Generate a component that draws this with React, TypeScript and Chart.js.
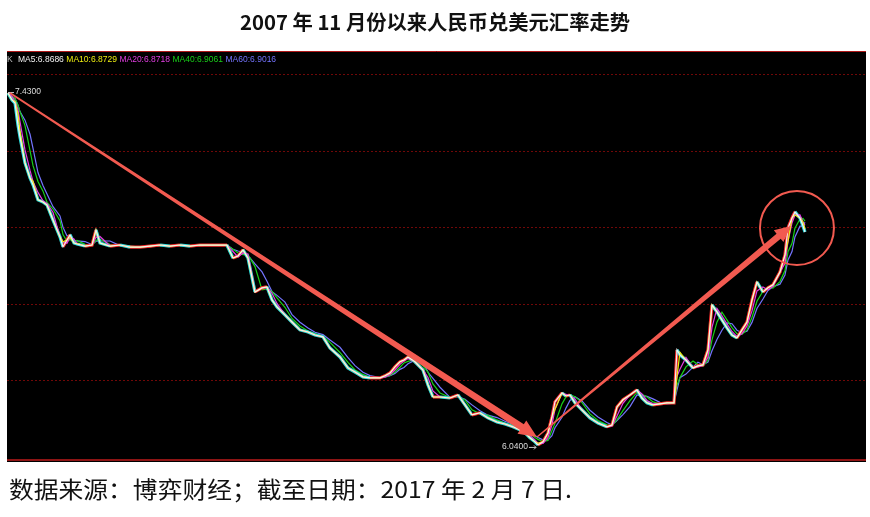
import React, { useEffect, useRef } from 'react';
import { Chart, registerables } from 'chart.js';

Chart.register(...registerables);

// months since 1 Nov 2007
const months = [
  0, 0.56, 0.98, 1.39, 1.67, 2.37, 3.07, 3.49, 4.18, 4.88, 5.44, 6.28, 7.25, 7.67, 8.23, 8.65,
  9.21, 9.62, 10.74, 11.72, 12.27, 12.83, 14.23, 15.62, 17.02, 18.41, 19.81, 21.2, 22.59, 23.99,
  25.38, 26.78, 28.17, 29.57, 30.54, 31.38, 32.08, 32.78, 33.47, 34.45, 35.43, 36.12, 36.82,
  37.52, 38.63, 39.61, 40.72, 41.84, 42.82, 43.93, 44.91, 46.3, 47.42, 48.4, 49.51, 50.49,
  51.88, 52.58, 53.28, 53.97, 54.67, 55.23, 55.79, 56.76, 57.88, 58.58, 59.27, 60.25, 61.65,
  62.76, 63.74, 64.71, 65.83, 66.95, 68.2, 69.32, 70.43, 71.41, 72.11, 72.8, 73.5, 73.92,
  74.62, 75.31, 75.87, 76.29, 77.27, 77.82, 78.38, 79.08, 80.06, 81.17, 82.29, 83.54, 84.24,
  84.94, 85.77, 86.75, 87.73, 88.42, 89.12, 89.96, 90.93, 91.91, 92.89, 93.31, 93.72, 94.56,
  95.54, 96.23, 96.93, 97.63, 98.19, 98.88, 99.58, 100.28, 100.98, 101.67, 102.37, 103.07,
  103.77, 104.46, 105.3, 106.0, 106.69, 107.67, 108.37, 108.79, 109.35, 109.76, 110.46,
  110.88, 111.16,
];

// USD/CNY
const rates = [
  7.427, 7.4, 7.388, 7.302, 7.255, 7.153, 7.094, 7.067, 7.008, 7.0, 6.988, 6.929, 6.863, 6.824,
  6.851, 6.871, 6.839, 6.835, 6.827, 6.831, 6.89, 6.839, 6.827, 6.831, 6.823, 6.823, 6.827,
  6.831, 6.827, 6.831, 6.827, 6.831, 6.831, 6.831, 6.831, 6.78, 6.788, 6.812, 6.78, 6.647,
  6.663, 6.667, 6.616, 6.588, 6.557, 6.529, 6.498, 6.49, 6.478, 6.471, 6.427, 6.392, 6.349,
  6.333, 6.314, 6.31, 6.31, 6.318, 6.329, 6.353, 6.373, 6.38, 6.392, 6.373, 6.341, 6.282,
  6.235, 6.235, 6.231, 6.243, 6.204, 6.165, 6.173, 6.153, 6.137, 6.129, 6.118, 6.106, 6.094,
  6.075, 6.059, 6.047, 6.059, 6.094, 6.157, 6.216, 6.251, 6.239, 6.243, 6.212, 6.184, 6.153,
  6.133, 6.118, 6.125, 6.196, 6.224, 6.243, 6.263, 6.231, 6.212, 6.204, 6.208, 6.212, 6.212,
  6.42, 6.4, 6.38, 6.349, 6.357, 6.361, 6.42, 6.596, 6.569, 6.537, 6.506, 6.478, 6.467, 6.498,
  6.529, 6.616, 6.686, 6.647, 6.663, 6.675, 6.725, 6.792, 6.898, 6.937, 6.961, 6.937, 6.906,
  6.882,
];

const gridValues = [6.3, 6.6, 6.9, 7.2, 7.5];
const maNames = ['MA5', 'MA10', 'MA20', 'MA40', 'MA60'];
const maLegendValues = ['6.8686', '6.8729', '6.8718', '6.9061', '6.9016'];
const maWindowsMonths = [0.23, 0.46, 0.92, 1.84, 2.76];
const maColors = ['#f2f2f2', '#eeee10', '#e23ee2', '#18d018', '#7474ff'];

const titleText = '2007 年 11 月份以来人民币兑美元汇率走势';
const footerText = '数据来源：博弈财经；截至日期：2017 年 2 月 7 日.';
const highLabel = '7.4300';
const lowLabel = '6.0400';

// arrows & circle anchored in data space (month, rate)
const arrowDown = { from: [0.28, 7.427], to: [73.78, 6.078] };
const arrowUp = { from: [73.78, 6.078], to: [109.2, 6.906] };
const circleCenter = [110.04, 6.898];

const RED = '#f25a50';

function movingAverage(win: number) {
  return months.map((m, i) => {
    let s = 0;
    let n = 0;
    for (let j = 0; j <= i; j++) {
      if (months[j] > m - win) {
        s += rates[j];
        n++;
      }
    }
    return { x: m, y: s / n };
  });
}

function drawArrow(
  ctx: CanvasRenderingContext2D,
  x0: number, y0: number, x1: number, y1: number,
  w0: number, w1: number, headLen: number, headHalf: number
) {
  const dx = x1 - x0;
  const dy = y1 - y0;
  const L = Math.hypot(dx, dy);
  const ux = dx / L;
  const uy = dy / L;
  const nx = -uy;
  const ny = ux;
  const bx = x1 - ux * headLen;
  const by = y1 - uy * headLen;
  ctx.beginPath();
  ctx.moveTo(x0 + (nx * w0) / 2, y0 + (ny * w0) / 2);
  ctx.lineTo(bx + (nx * w1) / 2, by + (ny * w1) / 2);
  ctx.lineTo(bx + nx * headHalf, by + ny * headHalf);
  ctx.lineTo(x1, y1);
  ctx.lineTo(bx - nx * headHalf, by - ny * headHalf);
  ctx.lineTo(bx - (nx * w1) / 2, by - (ny * w1) / 2);
  ctx.lineTo(x0 - (nx * w0) / 2, y0 - (ny * w0) / 2);
  ctx.closePath();
  ctx.fill();
}

function drawFitted(ctx: CanvasRenderingContext2D, text: string, cx: number, cy: number, width: number, align: 'center' | 'left') {
  const w = ctx.measureText(text).width;
  const sx = width / w;
  ctx.save();
  ctx.translate(align === 'center' ? cx - width / 2 : cx, cy);
  ctx.scale(sx, 1);
  ctx.textAlign = 'left';
  ctx.fillText(text, 0, 0);
  ctx.restore();
}

const framePlugin = {
  id: 'frame',
  beforeDraw(chart: any) {
    const { ctx, chartArea, scales } = chart;
    const { left, top, right, bottom } = chartArea;
    ctx.save();
    ctx.fillStyle = '#ffffff';
    ctx.fillRect(0, 0, chart.width, chart.height);
    ctx.fillStyle = '#000000';
    ctx.fillRect(left, top, right - left, bottom - top);
    // top border
    ctx.strokeStyle = '#b01818';
    ctx.lineWidth = 1;
    ctx.beginPath();
    ctx.moveTo(left, top + 0.5);
    ctx.lineTo(right, top + 0.5);
    ctx.stroke();
    // grid
    ctx.strokeStyle = '#700808';
    ctx.setLineDash([2, 2]);
    gridValues.forEach((v) => {
      const y = Math.round(scales.y.getPixelForValue(v)) + 0.5;
      ctx.beginPath();
      ctx.moveTo(left, y);
      ctx.lineTo(right, y);
      ctx.stroke();
    });
    ctx.setLineDash([]);
    // bottom border
    ctx.strokeStyle = '#8e1414';
    ctx.lineWidth = 2;
    ctx.beginPath();
    ctx.moveTo(left, bottom - 2);
    ctx.lineTo(right, bottom - 2);
    ctx.stroke();
    ctx.restore();
  },
  afterDraw(chart: any) {
    const { ctx, chartArea, scales } = chart;
    const X = (m: number) => scales.x.getPixelForValue(m);
    const Y = (v: number) => scales.y.getPixelForValue(v);
    ctx.save();

    // legend
    ctx.textBaseline = 'middle';
    ctx.font = '8.5px "Liberation Sans", Arial, sans-serif';
    ctx.fillStyle = '#bbbbbb';
    ctx.fillText('K', chartArea.left + 0, chartArea.top + 9);
    let lx = chartArea.left + 11;
    maNames.forEach((n, i) => {
      const t = `${n}:${maLegendValues[i]}`;
      ctx.fillStyle = maColors[i];
      ctx.fillText(t, lx, chartArea.top + 9);
      lx += ctx.measureText(t).width + 2.5;
    });

    // extreme labels
    let hi = 0;
    let lo = 0;
    rates.forEach((r, i) => {
      if (r > rates[hi]) hi = i;
      if (r < rates[lo]) lo = i;
    });
    const hx = X(months[hi]);
    const hy = Y(rates[hi]);
    ctx.strokeStyle = '#cccccc';
    ctx.lineWidth = 1;
    ctx.beginPath();
    ctx.moveTo(hx, hy - 0.5);
    ctx.lineTo(hx + 6, hy - 0.5);
    ctx.stroke();
    ctx.fillStyle = '#dddddd';
    ctx.font = '8.5px "Liberation Sans", Arial, sans-serif';
    ctx.fillText(highLabel, hx + 7, hy - 1);

    const lxp = X(months[lo]);
    const lyp = Y(rates[lo]) + 2;
    ctx.textAlign = 'right';
    ctx.fillText(lowLabel, lxp - 10, lyp);
    ctx.textAlign = 'left';
    ctx.beginPath();
    ctx.moveTo(lxp - 9, lyp + 0.5);
    ctx.lineTo(lxp - 2, lyp + 0.5);
    ctx.moveTo(lxp - 4, lyp - 1.5);
    ctx.lineTo(lxp - 2, lyp + 0.5);
    ctx.lineTo(lxp - 4, lyp + 2.5);
    ctx.stroke();

    // arrows
    ctx.fillStyle = RED;
    drawArrow(ctx, X(arrowDown.from[0]), Y(arrowDown.from[1]), X(arrowDown.to[0]), Y(arrowDown.to[1]), 1.8, 7, 18, 8);
    drawArrow(ctx, X(arrowUp.from[0]), Y(arrowUp.from[1]), X(arrowUp.to[0]), Y(arrowUp.to[1]), 1.4, 6.5, 16, 7.5);

    // circle
    ctx.strokeStyle = RED;
    ctx.lineWidth = 2;
    ctx.beginPath();
    ctx.arc(X(circleCenter[0]), Y(circleCenter[1]), 37, 0, Math.PI * 2);
    ctx.stroke();

    // title
    ctx.fillStyle = '#111111';
    ctx.textBaseline = 'middle';
    ctx.font = 'bold 20px "Noto Sans CJK SC", sans-serif';
    drawFitted(ctx, titleText, 435, 22, 390, 'center');

    // footer
    ctx.font = '23px "Noto Sans CJK SC", sans-serif';
    drawFitted(ctx, footerText, 9, 489, 563, 'left');

    ctx.restore();
  },
};

export default function App() {
  const ref = useRef<HTMLCanvasElement>(null);
  useEffect(() => {
    document.body.style.margin = '0';
    document.body.style.overflow = 'hidden';
    const close = months.map((m, i) => ({ x: m, y: rates[i] }));
    const maSets = maNames.map((n, i) => ({
      label: n,
      data: movingAverage(maWindowsMonths[i]),
      borderColor: maColors[i],
      borderWidth: 1.2,
      pointRadius: 0,
      tension: 0,
    }));
    const datasets: any[] = [
      maSets[0],
      maSets[1],
      maSets[2],
      {
        label: 'K',
        data: close,
        borderWidth: 3.2,
        pointRadius: 0,
        tension: 0,
        borderColor: '#30e0e0',
        segment: {
          borderColor: (c: any) => (c.p1.parsed.y >= c.p0.parsed.y ? '#ff3030' : '#30e0e0'),
        },
      },
      maSets[3],
      maSets[4],
    ];
    const chart = new Chart(ref.current as HTMLCanvasElement, {
      type: 'line',
      data: { datasets },
      options: {
        animation: false,
        responsive: false,
        maintainAspectRatio: false,
        layout: { padding: { left: 7, top: 51, right: 4, bottom: 55 } },
        plugins: {
          legend: { display: false },
          tooltip: { enabled: false },
          title: { display: false },
        },
        scales: {
          x: { type: 'linear', display: false, min: -0.14, max: 119.67 },
          y: { type: 'linear', display: false, min: 5.98, max: 7.592 },
        },
        elements: { point: { radius: 0 }, line: { tension: 0 } },
      },
      plugins: [framePlugin],
    } as any);
    return () => chart.destroy();
  }, []);
  return <canvas ref={ref} width={870} height={517} style={{ display: 'block' }} />;
}
